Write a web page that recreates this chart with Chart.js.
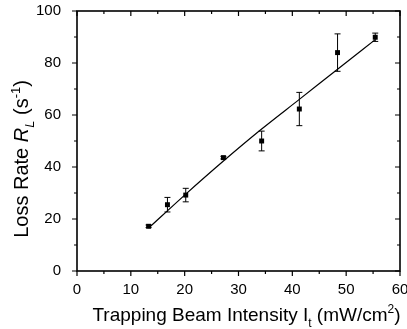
<!DOCTYPE html>
<html>
<head>
<meta charset="utf-8">
<script src="https://cdn.jsdelivr.net/npm/chart.js@4.4.0/dist/chart.umd.min.js"></script>
<style>
  body { margin: 0; background: #fff; }
  canvas { display: block; }
</style>
</head>
<body>
<canvas id="chart" width="407" height="329"></canvas>
<script>
// measured points (intensity in mW/cm2, loss rate in 1/s)
const intensity = [13.3, 16.8, 20.2, 27.2, 34.3, 41.3, 48.4, 55.4];
const lossRate  = [17.2, 25.5, 29.2, 43.6, 50.0, 62.3, 84.0, 89.9];
const lossErr   = [0.5, 2.8, 2.6, 0.5, 3.8, 6.4, 7.2, 1.6];

// fitted curve
const fitIntensity = [13.3, 20.0, 27.2, 34.3, 41.3, 48.4, 55.4];
const fitRate      = [16.5, 29.2, 42.3, 54.6, 66.0, 77.6, 89.0];

const xTicks = [0, 10, 20, 30, 40, 50, 60];
const yTicks = [0, 20, 40, 60, 80, 100];
const xMinor = [5, 15, 25, 35, 45, 55];
const yMinor = [10, 30, 50, 70, 90];

const FONT = '"Liberation Sans", Arial, Helvetica, sans-serif';

// draw a line of text made of pieces (italic / sub / sup)
function richText(ctx, parts, size, cx, baseY) {
    const small = Math.round(size * 0.65);
    const fontOf = (p) => (p.italic ? 'italic ' : '') + (p.sub || p.sup ? small : size) + 'px ' + FONT;
    let total = 0;
    parts.forEach(p => { ctx.font = fontOf(p); total += ctx.measureText(p.t).width; });
    let x = cx - total / 2;
    parts.forEach(p => {
        ctx.font = fontOf(p);
        let y = baseY;
        if (p.sub) y += size * 0.3;
        if (p.sup) y -= size * 0.4;
        ctx.fillText(p.t, x, y);
        x += ctx.measureText(p.t).width;
    });
}

const errorBars = {
    id: 'errorBars',
    beforeDatasetsDraw(chart) {
        const ctx = chart.ctx, xs = chart.scales.x, ys = chart.scales.y;
        ctx.save();
        ctx.strokeStyle = '#000';
        ctx.lineWidth = 1;
        intensity.forEach((v, i) => {
            const px = xs.getPixelForValue(v);
            const top = ys.getPixelForValue(lossRate[i] + lossErr[i]);
            const bot = ys.getPixelForValue(lossRate[i] - lossErr[i]);
            ctx.beginPath();
            ctx.moveTo(px, top); ctx.lineTo(px, bot);
            ctx.moveTo(px - 3, top); ctx.lineTo(px + 3, top);
            ctx.moveTo(px - 3, bot); ctx.lineTo(px + 3, bot);
            ctx.stroke();
        });
        ctx.restore();
    }
};

const frame = {
    id: 'frame',
    afterDraw(chart) {
        const ctx = chart.ctx, a = chart.chartArea;
        const xs = chart.scales.x, ys = chart.scales.y;
        ctx.save();
        ctx.strokeStyle = '#000';
        ctx.lineWidth = 1.2;
        const tickX = (vals, len) => vals.forEach(v => {
            const p = xs.getPixelForValue(v);
            ctx.beginPath();
            ctx.moveTo(p, a.bottom); ctx.lineTo(p, a.bottom + len);
            ctx.moveTo(p, a.top); ctx.lineTo(p, a.top + len);
            ctx.stroke();
        });
        const tickY = (vals, len) => vals.forEach(v => {
            const p = ys.getPixelForValue(v);
            ctx.beginPath();
            ctx.moveTo(a.left, p); ctx.lineTo(a.left - len, p);
            ctx.moveTo(a.right, p); ctx.lineTo(a.right - len, p);
            ctx.stroke();
        });
        tickX(xTicks, 5); tickX(xMinor, 3);
        tickY(yTicks, 5); tickY(yMinor, 3);
        ctx.lineWidth = 1.6;
        ctx.strokeRect(a.left, a.top, a.right - a.left, a.bottom - a.top);

        // axis titles
        ctx.fillStyle = '#000';
        ctx.textBaseline = 'alphabetic';
        richText(ctx, [
            { t: 'Trapping Beam Intensity I' },
            { t: 't', sub: true },
            { t: ' (mW/cm' },
            { t: '2', sup: true },
            { t: ')' }
        ], 19, (a.left + a.right) / 2 + 8, 321);

        ctx.translate(28, 159);
        ctx.rotate(-Math.PI / 2);
        richText(ctx, [
            { t: 'Loss Rate ' },
            { t: 'R', italic: true },
            { t: 'L', italic: true, sub: true },
            { t: ' (s' },
            { t: '-1', sup: true },
            { t: ')' }
        ], 20, 0, 0);
        ctx.restore();
    }
};

new Chart(document.getElementById('chart'), {
    type: 'scatter',
    data: {
        datasets: [{
            label: 'measured',
            data: intensity.map((x, i) => ({ x: x, y: lossRate[i] })),
            pointStyle: 'rect',
            pointRadius: 3.5,
            backgroundColor: '#000',
            borderColor: '#000',
            borderWidth: 0
        }, {
            label: 'fit',
            data: fitIntensity.map((x, i) => ({ x: x, y: fitRate[i] })),
            showLine: true,
            borderColor: '#000',
            borderWidth: 1.2,
            pointRadius: 0,
            cubicInterpolationMode: 'monotone'
        }]
    },
    options: {
        responsive: false,
        animation: false,
        layout: { padding: { top: 11, right: 7, left: 0, bottom: 0 } },
        plugins: { legend: { display: false }, tooltip: { enabled: false } },
        scales: {
            x: {
                type: 'linear', min: 0, max: 60,
                grid: { display: false },
                border: { display: false },
                afterBuildTicks: s => { s.ticks = xTicks.map(v => ({ value: v })); },
                afterFit: s => { s.height = 58; s.paddingLeft = 0; s.paddingRight = 0; },
                ticks: { color: '#000', padding: 2, maxRotation: 0, font: { family: FONT, size: 15 } }
            },
            y: {
                type: 'linear', min: 0, max: 100,
                grid: { display: false },
                border: { display: false },
                afterBuildTicks: s => { s.ticks = yTicks.map(v => ({ value: v })); },
                afterFit: s => { s.width = 77; s.paddingTop = 0; s.paddingBottom = 0; },
                ticks: { color: '#000', padding: 8, font: { family: FONT, size: 15 } }
            }
        }
    },
    plugins: [errorBars, frame]
});
</script>
</body>
</html>
